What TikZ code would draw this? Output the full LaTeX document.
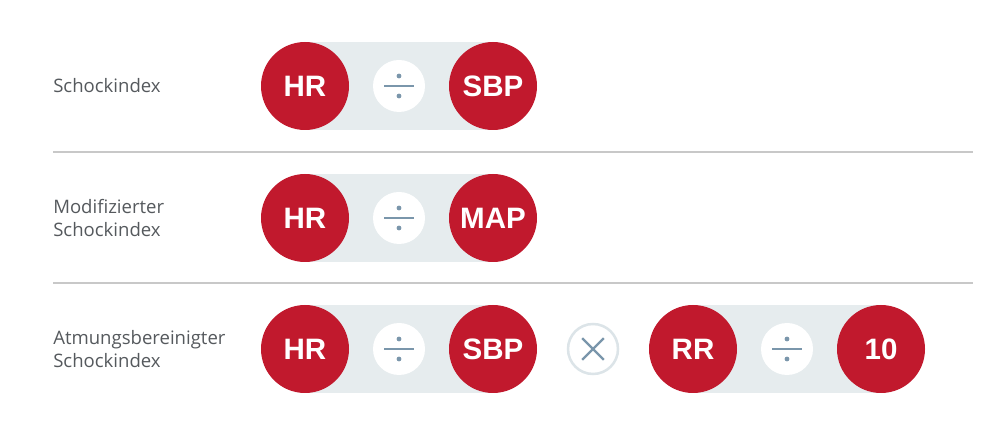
\documentclass[tikz,border=0pt]{standalone}
\usepackage{fontspec}
\setmainfont{Liberation Sans}
\newfontfamily\labelfont{Open Sans}
\usepackage{tikz}
\usetikzlibrary{positioning,backgrounds,calc}

\definecolor{shockred}{HTML}{C1192D}
\definecolor{bandgray}{HTML}{E6ECEE}
\definecolor{opblue}{HTML}{7A96AB}
\definecolor{rulegray}{HTML}{C8C8C8}
\definecolor{labelgray}{HTML}{55595D}
\definecolor{ringgray}{HTML}{DCE4E8}

\tikzset{
  value/.style={circle,fill=shockred,inner sep=0pt,minimum size=2.2cm,text=white,font=\fontsize{21}{24}\selectfont\bfseries},
  divop/.style={circle,fill=white,inner sep=0pt,minimum size=1.3cm,
    path picture={
      \draw[opblue,line width=1.8pt] ([xshift=-0.375cm]path picture bounding box.center) -- ([xshift=0.375cm]path picture bounding box.center);
      \fill[opblue] ([yshift=0.25cm]path picture bounding box.center) circle (0.06);
      \fill[opblue] ([yshift=-0.25cm]path picture bounding box.center) circle (0.06);}},
  mulop/.style={circle,fill=white,draw=ringgray,line width=1.8pt,inner sep=0pt,minimum size=1.25cm,
    path picture={
      \draw[opblue,line width=1.7pt] ($(path picture bounding box.center)+(-0.27,-0.27)$) -- ($(path picture bounding box.center)+(0.27,0.27)$);
      \draw[opblue,line width=1.7pt] ($(path picture bounding box.center)+(-0.27,0.27)$) -- ($(path picture bounding box.center)+(0.27,-0.27)$);}},
  rowlabel/.style={anchor=west,align=left,inner sep=0pt,text=labelgray,font=\labelfont\fontsize{13.2}{16.4}\selectfont},
  band/.style={fill=bandgray},
  rowrule/.style={rulegray,line width=1.3pt}
}

\begin{document}
\begin{tikzpicture}
\useasboundingbox (0,0) rectangle (24.975,10.8);

% Schockindex
\node[rowlabel] (lab1) at (1.325,8.65) {Schockindex};
\node[value] (hr1) at (7.625,8.65) {HR};
\node[divop] (div1) at (9.975,8.65) {};
\node[value] (sbp1) at (12.325,8.65) {SBP};

\draw[rowrule] (1.325,7.0) coordinate (r1a) -- (24.325,7.0) coordinate (r1b);

% modifiziert
\node[rowlabel] (lab2) at (1.325,5.35) {Modifizierter\\Schockindex};
\node[value] (hr2) at (7.625,5.35) {HR};
\node[divop] (div2) at (9.975,5.35) {};
\node[value] (map2) at (12.325,5.35) {MAP};

\draw[rowrule] (1.325,3.725) coordinate (r2a) -- (24.325,3.725) coordinate (r2b);

% atmungsbereinigt
\node[rowlabel] (lab3) at (1.325,2.075) {Atmungsbereinigter\\Schockindex};
\node[value] (hr3) at (7.625,2.075) {HR};
\node[divop] (div3) at (9.975,2.075) {};
\node[value] (sbp3) at (12.325,2.075) {SBP};
\node[mulop] (mul3) at (14.825,2.075) {};
\node[value] (rr3) at (17.325,2.075) {RR};
\node[divop] (div4) at (19.675,2.075) {};
\node[value] (ten3) at (22.025,2.075) {10};

\begin{scope}[on background layer]
\fill[band] (hr1.north) rectangle (sbp1.south);
\fill[band] (hr2.north) rectangle (map2.south);
\fill[band] (hr3.north) rectangle (sbp3.south);
\fill[band] (rr3.north) rectangle (ten3.south);
\end{scope}
\end{tikzpicture}
\end{document}
